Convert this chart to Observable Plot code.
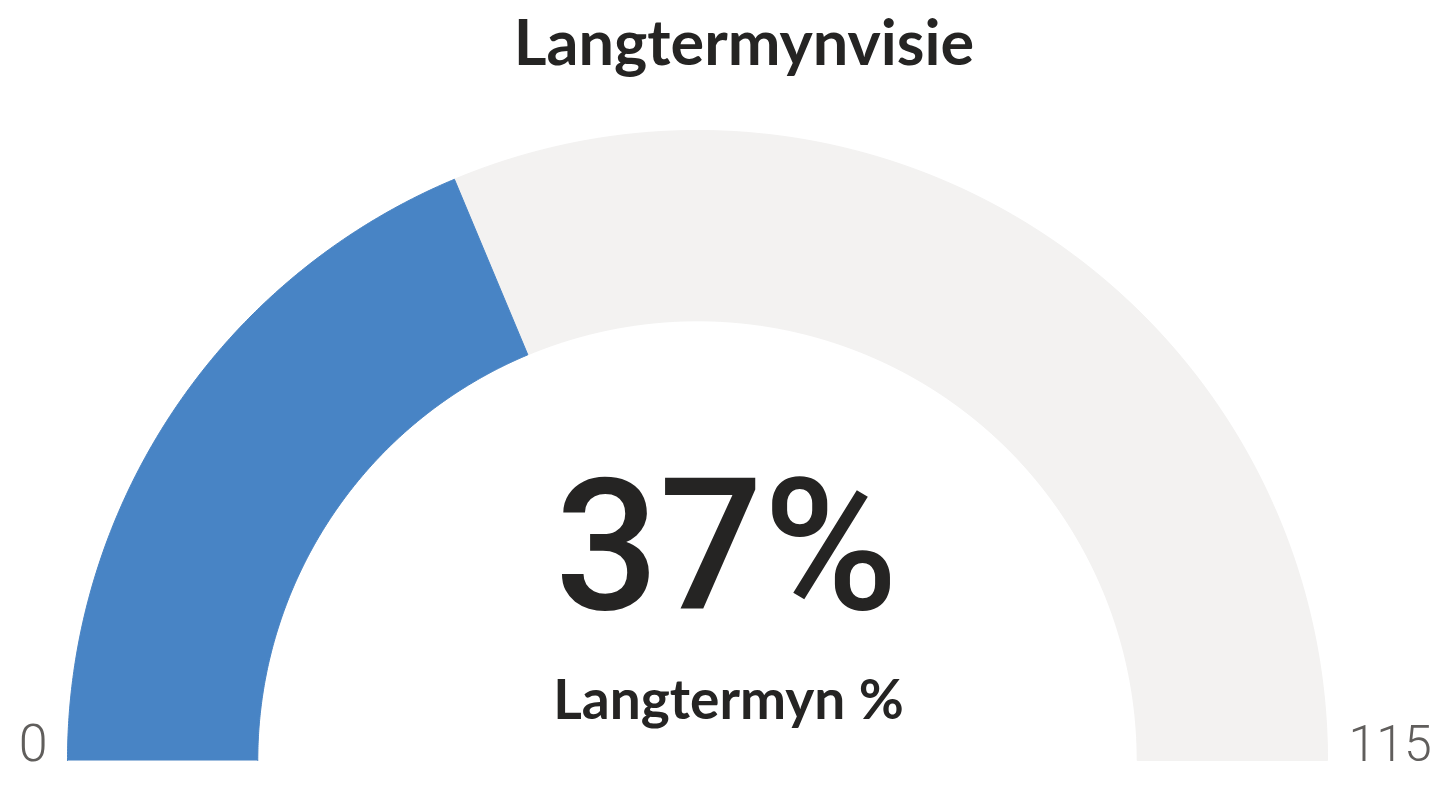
<!DOCTYPE html>
<html>
<head>
<meta charset="utf-8">
<script src="https://cdn.jsdelivr.net/npm/d3@7"></script>
<script src="https://cdn.jsdelivr.net/npm/@observablehq/plot@0.6"></script>
<style>
  html, body { margin: 0; padding: 0; background: #ffffff; }
  #title {
    height: 100px; box-sizing: border-box; padding-left: 34px; padding-top: 6px;
    text-align: center; font-family: Lato, "Open Sans", sans-serif; font-weight: 700;
    font-size: 63px; line-height: 70px; color: #252423;
  }
</style>
</head>
<body>
<div id="title"></div>
<div id="chart"></div>
<script>
// ---- data ----
const titleText = "Langtermynvisie";
const measureLabel = "Langtermyn %";
const gaugeMin = 0;
const gaugeMax = 115;
const gaugeValue = 43;          // filled portion of the arc
const tickLabels = ["0", "115"];
const innerRatio = 0.698;       // inner radius / outer radius

document.getElementById("title").textContent = titleText;

// angle mapping for the gauge
const angle = d3.scaleLinear().domain([gaugeMin, gaugeMax]).range([Math.PI, 0]);
function band(v0, v1, n = 240) {
  const pts = [];
  for (let i = 0; i <= n; i++) {
    const a = angle(v0 + (v1 - v0) * i / n);
    pts.push({x: Math.cos(a), y: Math.sin(a)});
  }
  for (let i = n; i >= 0; i--) {
    const a = angle(v0 + (v1 - v0) * i / n);
    pts.push({x: innerRatio * Math.cos(a), y: innerRatio * Math.sin(a)});
  }
  return pts;
}
const track = band(gaugeMin, gaugeMax);
const fillArc = band(gaugeMin, gaugeValue);
const pctText = Math.round((gaugeValue - gaugeMin) / (gaugeMax - gaugeMin) * 100) + "%";

const chart = Plot.plot({
  width: 1454,
  height: 697,
  marginTop: 30,
  marginBottom: 37,
  marginLeft: 67,
  marginRight: 127,
  x: {domain: [-1, 1], axis: null},
  y: {domain: [0, 1], axis: null},
  marks: [
    Plot.line(track, {x: "x", y: "y", fill: "#f3f2f1", stroke: "#f3f2f1", strokeWidth: 1, curve: "linear"}),
    Plot.line(fillArc, {x: "x", y: "y", fill: "#4884c5", stroke: "#4884c5", strokeWidth: 1, curve: "linear"}),
    Plot.text([pctText], {x: () => 0, y: () => 0, text: d => d, dx: 29, dy: -152, lineAnchor: "bottom",
      fontFamily: "Roboto", fontSize: 183, fontWeight: 500, fill: "#252423", textAnchor: "middle"}),
    Plot.text([measureLabel], {x: () => 0, y: () => 0, text: d => d, dx: 31, dy: -42, lineAnchor: "bottom",
      fontFamily: "Lato", fontSize: 55, fontWeight: 700, fill: "#252423", textAnchor: "middle"}),
    Plot.text([tickLabels[0]], {x: () => -1, y: () => 0, text: d => d, dx: -20, lineAnchor: "bottom",
      fontFamily: "Roboto", fontSize: 52, fontWeight: 300, fill: "#605e5c", textAnchor: "end"}),
    Plot.text([tickLabels[1]], {x: () => 1, y: () => 0, text: d => d, dx: 21, lineAnchor: "bottom",
      fontFamily: "Roboto", fontSize: 50, fontWeight: 300, fill: "#605e5c", textAnchor: "start"})
  ]
});
document.getElementById("chart").appendChild(chart);
</script>
</body>
</html>
